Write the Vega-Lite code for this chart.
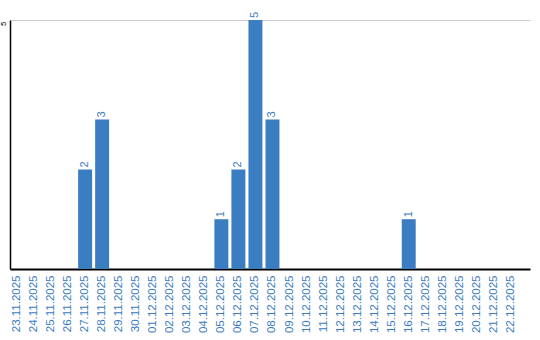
{
  "$schema": "https://vega.github.io/schema/vega-lite/v6.json",
  "autosize": "none",
  "width": 520,
  "height": 249,
  "padding": {"left": 10, "top": 20, "right": 10, "bottom": 71},
  "background": "white",
  "data": {
    "values": [
      {"date": "23.11.2025", "count": 0},
      {"date": "24.11.2025", "count": 0},
      {"date": "25.11.2025", "count": 0},
      {"date": "26.11.2025", "count": 0},
      {"date": "27.11.2025", "count": 2},
      {"date": "28.11.2025", "count": 3},
      {"date": "29.11.2025", "count": 0},
      {"date": "30.11.2025", "count": 0},
      {"date": "01.12.2025", "count": 0},
      {"date": "02.12.2025", "count": 0},
      {"date": "03.12.2025", "count": 0},
      {"date": "04.12.2025", "count": 0},
      {"date": "05.12.2025", "count": 1},
      {"date": "06.12.2025", "count": 2},
      {"date": "07.12.2025", "count": 5},
      {"date": "08.12.2025", "count": 3},
      {"date": "09.12.2025", "count": 0},
      {"date": "10.12.2025", "count": 0},
      {"date": "11.12.2025", "count": 0},
      {"date": "12.12.2025", "count": 0},
      {"date": "13.12.2025", "count": 0},
      {"date": "14.12.2025", "count": 0},
      {"date": "15.12.2025", "count": 0},
      {"date": "16.12.2025", "count": 1},
      {"date": "17.12.2025", "count": 0},
      {"date": "18.12.2025", "count": 0},
      {"date": "19.12.2025", "count": 0},
      {"date": "20.12.2025", "count": 0},
      {"date": "21.12.2025", "count": 0},
      {"date": "22.12.2025", "count": 0}
    ]
  },
  "encoding": {
    "x": {
      "field": "date",
      "type": "ordinal",
      "sort": null,
      "scale": {"paddingInner": 0.18, "paddingOuter": 0.355, "align": 0},
      "axis": {
        "title": null,
        "labelAngle": -90,
        "labelColor": "#3a7bbf",
        "labelFont": "Liberation Sans",
        "labelFontSize": 11.5,
        "labelPadding": 6,
        "ticks": false,
        "domainColor": "#000000",
        "domainWidth": 2,
        "grid": false
      }
    },
    "y": {
      "field": "count",
      "type": "quantitative",
      "scale": {"domain": [0, 5], "nice": false},
      "axis": {
        "title": null,
        "values": [5],
        "labelAngle": -90,
        "labelAlign": "right",
        "labelBaseline": "bottom",
        "labelColor": "#000000",
        "labelFont": "Liberation Sans",
        "labelFontSize": 8,
        "labelPadding": 3,
        "labelOffset": 1,
        "ticks": false,
        "domainColor": "#000000",
        "domainWidth": 1.5,
        "grid": true,
        "gridColor": "#cccccc",
        "gridWidth": 1
      }
    }
  },
  "layer": [
    {
      "mark": {"type": "bar", "color": "#3a7dc1"}
    },
    {
      "transform": [{"filter": "datum.count > 0"}],
      "mark": {
        "type": "text",
        "angle": 270,
        "align": "left",
        "baseline": "middle",
        "dx": 2,
        "color": "#3a7bbf",
        "font": "Liberation Sans",
        "fontSize": 11
      },
      "encoding": {"text": {"field": "count", "type": "quantitative"}}
    }
  ],
  "config": {"view": {"stroke": null}}
}
